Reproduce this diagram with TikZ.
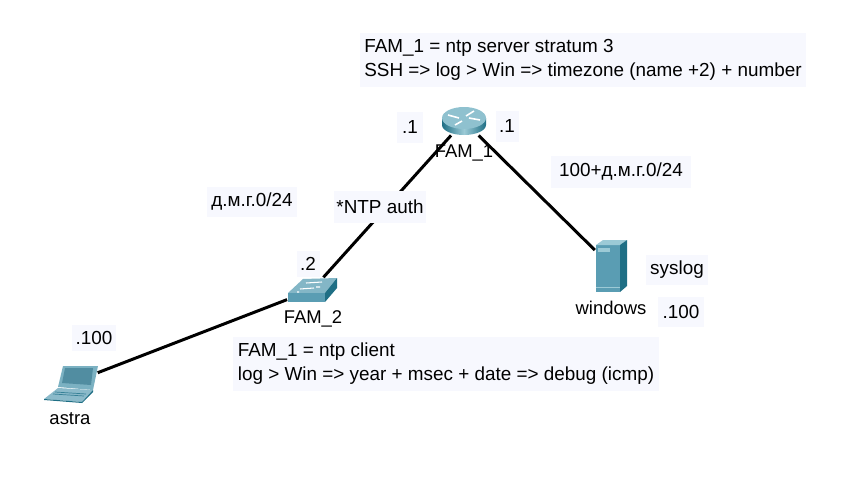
\documentclass[tikz,border=0pt]{standalone}
\usepackage{fontspec}
\setmainfont{Liberation Sans}
\definecolor{paleblue}{HTML}{F7F8FE}
\definecolor{iconteal}{HTML}{5A9DB3}
\definecolor{tealdark}{HTML}{1F6F85}
\definecolor{teallight}{HTML}{9CCAD6}
\tikzset{
    lbl/.style={fill=paleblue, inner sep=0pt, font=\fontsize{10.75}{13.6}\selectfont, align=left},
    devname/.style={inner sep=0pt, font=\fontsize{10.5}{12}\selectfont},
    device/.style={inner sep=0pt, minimum width=#1},
    link/.style={line width=1.7pt, black},
    routericon/.pic={
        \shade[left color=tealdark, right color=tealdark, middle color=teallight] (-22,-3) -- (-22,4) arc[start angle=180, end angle=0, x radius=22, y radius=10] -- (22,-3) -- cycle;
        \fill[teallight!80!iconteal] (0,-3) ellipse[x radius=22, y radius=11];
        \draw[white, line width=0.9pt] (-16,-6) -- (-5,-3) (16,-1) -- (5,-3) (-9,4) -- (-2,0) (10,-10) -- (2,-5);
    },
    switchicon/.pic={
        \fill[iconteal!75!white] (-24,3) -- (-9,-11) -- (25,-12) -- (13,3) -- cycle;
        \fill[iconteal] (-24,3) rectangle (13,12);
        \fill[tealdark] (13,3) -- (25,-12) -- (25,-2) -- (13,12) -- cycle;
        \draw[white, line width=0.6pt] (-12,-1) -- (2,-2) (-6,-7) -- (10,-8) (-15,2) -- (-13,2) (4,-3) -- (8,-3);
    },
    laptopicon/.pic={
        \fill[iconteal!80!white] (-8,-17) -- (27,-17) -- (22,7) -- (-13,4) -- cycle;
        \fill[iconteal!90!black] (-6,-15) -- (22,-15) -- (20,2) -- (-9,0) -- cycle;
        \fill[iconteal!70!white] (-27,16) -- (-13,5) -- (22,7) -- (11,19) -- cycle;
        \fill[tealdark] (-27,16) -- (11,19) -- (22,7) -- (22,9) -- (11,20) -- (-27,17) -- cycle;
        \draw[tealdark!60!iconteal, line width=0.4pt] (-18,11) -- (13,13) (-16,9) -- (15,11);
    },
    servericon/.pic={
        \fill[iconteal] (-15,-21) rectangle (9,26);
        \fill[teallight] (-15,-21) -- (-8,-26) -- (16,-26) -- (9,-21) -- cycle;
        \fill[tealdark] (9,-21) -- (16,-26) -- (16,20) -- (9,26) -- cycle;
        \fill[teallight] (-13,-18) rectangle (-1,-14);
        \draw[teallight, line width=0.5pt] (-15,21) -- (9,21);
    }
}
\begin{document}
\begin{tikzpicture}[x=0.02cm, y=-0.02cm]
    \useasboundingbox (0,0) rectangle (852,480);

    \node[device=26pt, minimum height=16pt] (router) at (464,121) {};
    \node[device=28pt, minimum height=14pt] (switch) at (312,290) {};
    \node[device=30pt, minimum height=21pt] (laptop) at (71,383) {};
    \node[device=18pt, minimum height=30pt] (server) at (611,266) {};

    \draw[link] (router) -- (switch);
    \draw[link] (router) -- (server);
    \draw[link] (switch) -- (laptop);

    \pic at (router) {routericon};
    \pic at (switch) {switchicon};
    \pic at (laptop) {laptopicon};
    \pic at (server) {servericon};

    \node[devname] (routername) at (464,153) {FAM\_1};
    \node[devname] (switchname) at (313,319) {FAM\_2};
    \node[devname] (laptopname) at (70,419) {astra};
    \node[devname] (servername) at (611,308) {windows};

    \node[lbl, minimum width=446*0.02cm, minimum height=54*0.02cm] (taskrouter) at (583,60) {FAM\_1 = ntp server stratum 3\\SSH => log > Win => timezone (name +2) + number};
    \node[lbl, minimum width=426*0.02cm, minimum height=54*0.02cm] (taskswitch) at (446,364) {FAM\_1 = ntp client\\log > Win => year + msec + date => debug (icmp)};

    \node[lbl, minimum width=26*0.02cm, minimum height=31*0.02cm] (ipleft) at (410,127) {.1};
    \node[lbl, minimum width=23*0.02cm, minimum height=31*0.02cm] (ipright) at (507,126) {.1};
    \node[lbl, minimum width=140*0.02cm, minimum height=32*0.02cm] (netright) at (621,172) {100+д.м.г.0/24};
    \node[lbl, minimum width=90*0.02cm, minimum height=30*0.02cm] (netleft) at (252,202) {д.м.г.0/24};
    \node[lbl, minimum width=92*0.02cm, minimum height=32*0.02cm] (auth) at (380,207) {*NTP auth};
    \node[lbl, minimum width=23*0.02cm, minimum height=26*0.02cm] (ipswitch) at (308,264) {.2};
    \node[lbl, minimum width=44*0.02cm, minimum height=26*0.02cm] (iplaptop) at (94,338) {.100};
    \node[lbl, minimum width=62*0.02cm, minimum height=30*0.02cm] (sysloglbl) at (677,270) {syslog};
    \node[lbl, minimum width=46*0.02cm, minimum height=30*0.02cm] (ipserver) at (681,312) {.100};
\end{tikzpicture}
\end{document}
